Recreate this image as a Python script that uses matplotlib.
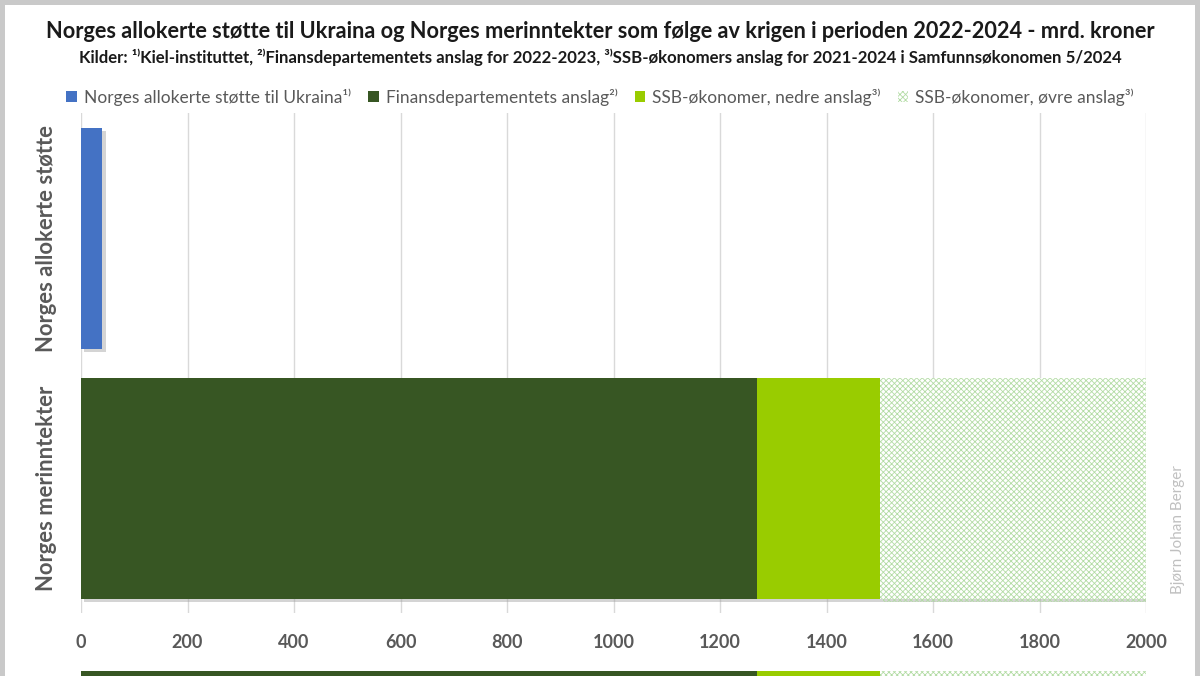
import matplotlib
matplotlib.use("Agg")
import matplotlib.pyplot as plt
import matplotlib.patches as mpatches
import matplotlib.patheffects as pe
import numpy as np

categories = ["Norges allokerte støtte", "Norges merinntekter"]
stotte = [40, 0]
finansdep = [0, 1270]
ssb_nedre = [0, 230]
ssb_ovre = [0, 500]
xticks = [0, 200, 400, 600, 800, 1000, 1200, 1400, 1600, 1800, 2000]

series_labels = ["Norges allokerte støtte til Ukraina¹⁾",
                 "Finansdepartementets anslag²⁾",
                 "SSB-økonomer, nedre anslag³⁾",
                 "SSB-økonomer, øvre anslag³⁾"]
title = "Norges allokerte støtte til Ukraina og Norges merinntekter som følge av krigen i perioden 2022-2024 - mrd. kroner"
subtitle = "Kilder: ¹⁾Kiel-instituttet, ²⁾Finansdepartementets anslag for 2022-2023, ³⁾SSB-økonomers anslag for 2021-2024 i Samfunnsøkonomen 5/2024"

FAM = ["Lato", "DejaVu Sans"]
plt.rcParams['font.family'] = FAM
plt.rcParams['hatch.linewidth'] = 0.6

W, H = 1200, 676
fig = plt.figure(figsize=(W/100, H/100), dpi=100, facecolor="#c9c9c9")
# white card
fig.patches.append(mpatches.Rectangle((5/W, 0), 1190/W, 671/H, transform=fig.transFigure,
                                      facecolor="white", edgecolor="none", zorder=-10))

def ax_rect(x0, y0, x1, y1):
    return [x0/W, 1 - y1/H, (x1-x0)/W, (y1-y0)/H]

ax = fig.add_axes(ax_rect(81, 113, 1146, 613))
ax.set_facecolor("none")
y = np.arange(len(categories))
bh = 0.884
shadow = [pe.SimplePatchShadow(offset=(2.5, -2.5), shadow_rgbFace="#a0a0a0", alpha=0.45), pe.Normal()]

colors = ["#4472C4", "#375623", "#99CC00"]
hatch_col = "#b3dca5"
left = np.zeros(len(categories))
for vals, col in zip([stotte, finansdep, ssb_nedre], colors):
    b = ax.barh(y, vals, left=left, height=bh, color=col, zorder=3)
    for p in b:
        if p.get_width() > 0:
            p.set_path_effects(shadow)
    left = left + np.array(vals)
b = ax.barh(y, ssb_ovre, left=left, height=bh, facecolor="white", edgecolor=hatch_col,
            hatch="xxxxxx", linewidth=0, zorder=3)
for p in b:
    if p.get_width() > 0:
        p.set_path_effects(shadow)

ax.set_xlim(0, 2000)
ax.set_ylim(1.5, -0.5)
ax.set_xticks(xticks)
ax.set_xticklabels([str(t) for t in xticks], fontsize=13, fontweight="bold", color="#595959")
ax.set_yticks(y)
ax.set_yticklabels(categories, rotation=90, va="center", fontsize=15.8, fontweight="bold", color="#595959")
ax.tick_params(axis="both", length=0)
ax.tick_params(axis="x", pad=15)
ax.tick_params(axis="y", pad=17)
for s in ax.spines.values():
    s.set_visible(False)
ax.grid(axis="x", color="#d9d9d9", linewidth=1, zorder=0)
ax.set_axisbelow(True)

# title & subtitle
fig.text(0.5, 1 - 32/H, title, ha="center", va="center", fontsize=15.7, fontweight="bold", color="#1a1a1a")
fig.text(0.5, 1 - 57/H, subtitle, ha="center", va="center", fontsize=12.1, fontweight="bold", color="#1a1a1a")

# legend
handles = [mpatches.Rectangle((0, 0), 1, 1, facecolor=c, edgecolor="none") for c in colors]
handles.append(mpatches.Rectangle((0, 0), 1, 1, facecolor="white", edgecolor=hatch_col,
                                  hatch="xxxxxx", linewidth=0))
leg = fig.legend(handles, series_labels, loc="center", bbox_to_anchor=(0.5, 1 - 97/H), ncol=4, frameon=False,
                 fontsize=12.5, handlelength=0.6, handleheight=0.6, handletextpad=0.4,
                 columnspacing=1.0, labelcolor="#595959")

# watermark
fig.text(1178/W, 1 - 530/H, "Bjørn Johan Berger", rotation=90, ha="center", va="center",
         fontsize=11, color="#c0c0c0")

# bottom artifact strip (repeated bar)
ax2 = fig.add_axes(ax_rect(81, 671, 1146, 676))
left = 0
for vals, col in zip([finansdep, ssb_nedre], colors[1:]):
    ax2.barh([0], [vals[1]], left=left, height=1, color=col)
    left = left + vals[1]
ax2.barh([0], [ssb_ovre[1]], left=left, height=1, facecolor="white", edgecolor=hatch_col,
         hatch="xxxxxx", linewidth=0)
ax2.set_xlim(0, 2000)
ax2.set_ylim(-0.5, 0.5)
ax2.axis("off")

fig.savefig("out.png", dpi=100, facecolor=fig.get_facecolor())
